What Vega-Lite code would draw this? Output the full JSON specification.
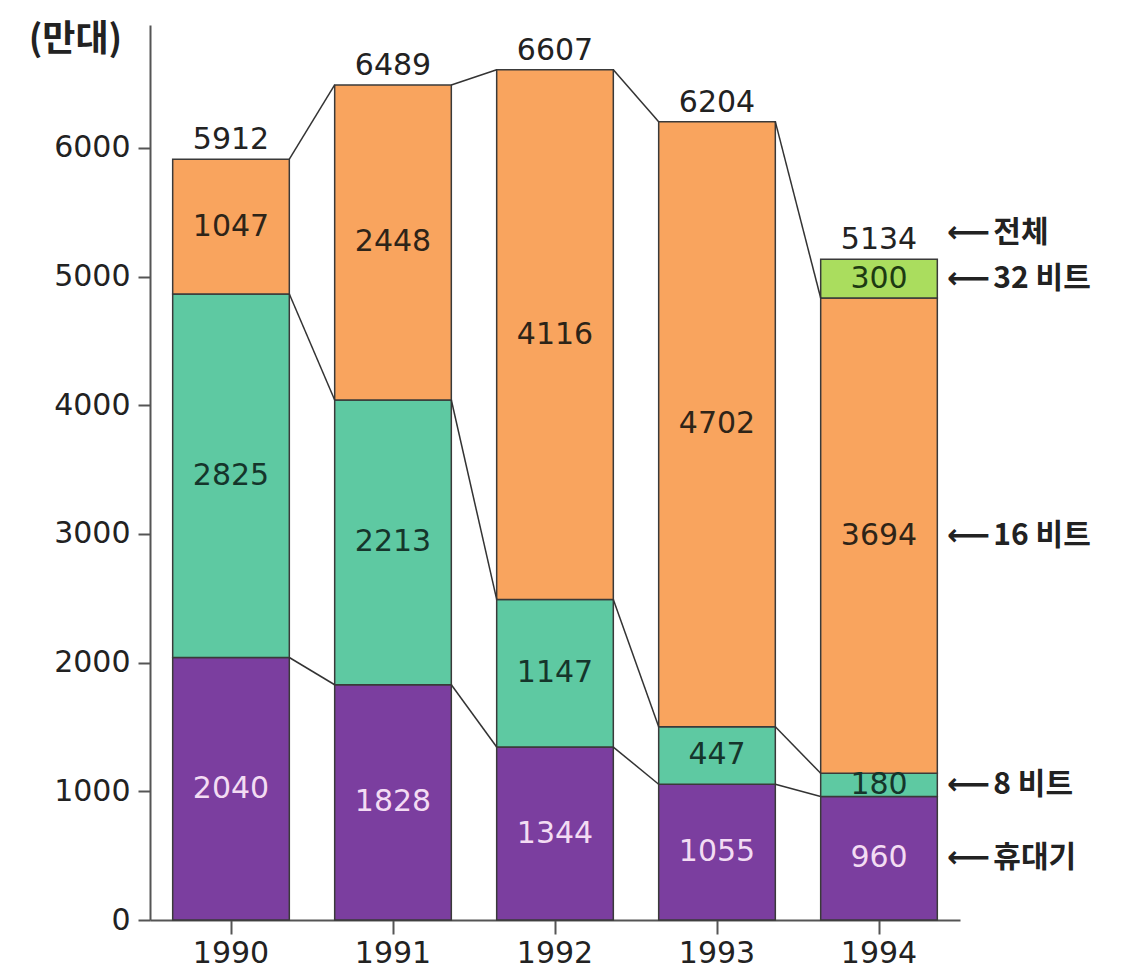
{
  "$schema": "https://vega.github.io/schema/vega-lite/v6.json",
  "width": 810,
  "height": 895,
  "autosize": {"type": "none"},
  "padding": {"left": 150, "top": 25, "right": 171, "bottom": 58},
  "background": "white",
  "config": {
    "view": {"stroke": null},
    "axis": {"grid": false}
  },
  "datasets": {
    "main": [
      {"year": "1990", "cat": "휴대기", "k": 1, "value": 2040},
      {"year": "1990", "cat": "8 비트", "k": 2, "value": 2825},
      {"year": "1990", "cat": "16 비트", "k": 3, "value": 1047},
      {"year": "1991", "cat": "휴대기", "k": 1, "value": 1828},
      {"year": "1991", "cat": "8 비트", "k": 2, "value": 2213},
      {"year": "1991", "cat": "16 비트", "k": 3, "value": 2448},
      {"year": "1992", "cat": "휴대기", "k": 1, "value": 1344},
      {"year": "1992", "cat": "8 비트", "k": 2, "value": 1147},
      {"year": "1992", "cat": "16 비트", "k": 3, "value": 4116},
      {"year": "1993", "cat": "휴대기", "k": 1, "value": 1055},
      {"year": "1993", "cat": "8 비트", "k": 2, "value": 447},
      {"year": "1993", "cat": "16 비트", "k": 3, "value": 4702},
      {"year": "1994", "cat": "휴대기", "k": 1, "value": 960},
      {"year": "1994", "cat": "8 비트", "k": 2, "value": 180},
      {"year": "1994", "cat": "16 비트", "k": 3, "value": 3694},
      {"year": "1994", "cat": "32 비트", "k": 4, "value": 300}
    ],
    "totals": [
      {"year": "1990", "total": 5912},
      {"year": "1991", "total": 6489},
      {"year": "1992", "total": 6607},
      {"year": "1993", "total": 6204},
      {"year": "1994", "total": 5134}
    ],
    "links": [
      {"from": "1990", "to": "1991", "a": 2040, "b": 1828},
      {"from": "1990", "to": "1991", "a": 4865, "b": 4041},
      {"from": "1990", "to": "1991", "a": 5912, "b": 6489},
      {"from": "1991", "to": "1992", "a": 1828, "b": 1344},
      {"from": "1991", "to": "1992", "a": 4041, "b": 2491},
      {"from": "1991", "to": "1992", "a": 6489, "b": 6607},
      {"from": "1992", "to": "1993", "a": 1344, "b": 1055},
      {"from": "1992", "to": "1993", "a": 2491, "b": 1502},
      {"from": "1992", "to": "1993", "a": 6607, "b": 6204},
      {"from": "1993", "to": "1994", "a": 1055, "b": 960},
      {"from": "1993", "to": "1994", "a": 1502, "b": 1140},
      {"from": "1993", "to": "1994", "a": 6204, "b": 4834}
    ]
  },
  "layer": [
    {
      "data": {"name": "main"},
      "mark": {"type": "bar", "stroke": "#3a3a3a", "strokeWidth": 1.5},
      "encoding": {
        "x": {
          "field": "year", "type": "ordinal",
          "scale": {"paddingInner": 0.28, "paddingOuter": 0.14},
          "axis": {
            "title": null, "labelAngle": 0,
            "domainColor": "#555", "domainWidth": 2,
            "tickColor": "#555", "tickWidth": 2, "tickSize": 14,
            "labelPadding": 4, "labelFont": "DejaVu Sans", "labelFontSize": 30, "labelColor": "#222"
          }
        },
        "y": {
          "field": "value", "type": "quantitative", "stack": "zero",
          "scale": {"domain": [0, 6955], "nice": false, "zero": true},
          "axis": {
            "values": [0, 1000, 2000, 3000, 4000, 5000, 6000],
            "format": "d",
            "title": "(만대)", "titleAngle": 0, "titleX": -75, "titleY": 14,
            "titleAlign": "center", "titleBaseline": "middle",
            "titleFont": "Noto Sans CJK KR", "titleFontSize": 36, "titleFontWeight": "bold", "titleColor": "#222",
            "domainColor": "#555", "domainWidth": 2,
            "tickColor": "#555", "tickWidth": 2, "tickSize": 12,
            "labelPadding": 8, "labelFont": "DejaVu Sans", "labelFontSize": 30, "labelColor": "#222"
          }
        },
        "color": {
          "field": "cat", "type": "nominal", "legend": null,
          "scale": {"domain": ["휴대기", "8 비트", "16 비트", "32 비트"], "range": ["#7b3e9f", "#5ec9a2", "#f9a45e", "#aadd5e"]}
        },
        "order": {"field": "k", "type": "quantitative"}
      }
    },
    {
      "data": {"name": "links"},
      "mark": {"type": "rule", "color": "#333", "strokeWidth": 1.5},
      "encoding": {
        "x": {"field": "from", "type": "ordinal", "bandPosition": 1},
        "x2": {"field": "to", "bandPosition": 0},
        "y": {"field": "a", "type": "quantitative"},
        "y2": {"field": "b"}
      }
    },
    {
      "data": {"name": "main"},
      "mark": {"type": "text", "font": "DejaVu Sans", "fontSize": 30, "baseline": "middle", "align": "center"},
      "encoding": {
        "x": {"field": "year", "type": "ordinal"},
        "y": {"field": "value", "type": "quantitative", "stack": "zero", "bandPosition": 0.5},
        "detail": {"field": "cat", "type": "nominal"},
        "order": {"field": "k", "type": "quantitative"},
        "text": {"field": "value", "type": "quantitative", "format": "d"},
        "color": {
          "condition": [
            {"test": "datum.cat === '휴대기'", "value": "#f3dcf3"},
            {"test": "datum.cat === '8 비트'", "value": "#15352b"},
            {"test": "datum.cat === '32 비트'", "value": "#1d3a12"}
          ],
          "value": "#2e2418"
        }
      }
    },
    {
      "data": {"name": "totals"},
      "mark": {"type": "text", "font": "DejaVu Sans", "fontSize": 30, "baseline": "alphabetic", "align": "center", "dy": -10, "color": "#222"},
      "encoding": {
        "x": {"field": "year", "type": "ordinal"},
        "y": {"field": "total", "type": "quantitative"},
        "text": {"field": "total", "type": "quantitative", "format": "d"}
      }
    },
    {
      "data": {"name": "main"},
      "transform": [{"filter": "datum.year === '1994'"}],
      "mark": {"type": "text", "font": "DejaVu Sans", "fontSize": 30, "fontWeight": "bold", "baseline": "middle", "align": "left", "dx": 10, "color": "#222"},
      "encoding": {
        "x": {"field": "year", "type": "ordinal", "bandPosition": 1},
        "y": {"field": "value", "type": "quantitative", "stack": "zero", "bandPosition": 0.5},
        "detail": {"field": "cat", "type": "nominal"},
        "order": {"field": "k", "type": "quantitative"},
        "text": {"value": "⟵"}
      }
    },
    {
      "data": {"name": "main"},
      "transform": [{"filter": "datum.year === '1994'"}],
      "mark": {"type": "text", "font": "Noto Sans CJK KR", "fontWeight": "bold", "fontSize": 30, "baseline": "middle", "align": "left", "dx": 56, "color": "#222"},
      "encoding": {
        "x": {"field": "year", "type": "ordinal", "bandPosition": 1},
        "y": {"field": "value", "type": "quantitative", "stack": "zero", "bandPosition": 0.5},
        "detail": {"field": "cat", "type": "nominal"},
        "order": {"field": "k", "type": "quantitative"},
        "text": {"field": "cat", "type": "nominal"}
      }
    },
    {
      "data": {"name": "totals"},
      "transform": [{"filter": "datum.year === '1994'"}],
      "mark": {"type": "text", "font": "DejaVu Sans", "fontSize": 30, "fontWeight": "bold", "baseline": "middle", "align": "left", "dx": 10, "dy": -26, "color": "#222"},
      "encoding": {
        "x": {"field": "year", "type": "ordinal", "bandPosition": 1},
        "y": {"field": "total", "type": "quantitative"},
        "text": {"value": "⟵"}
      }
    },
    {
      "data": {"name": "totals"},
      "transform": [{"filter": "datum.year === '1994'"}],
      "mark": {"type": "text", "font": "Noto Sans CJK KR", "fontWeight": "bold", "fontSize": 30, "baseline": "middle", "align": "left", "dx": 56, "dy": -26, "color": "#222"},
      "encoding": {
        "x": {"field": "year", "type": "ordinal", "bandPosition": 1},
        "y": {"field": "total", "type": "quantitative"},
        "text": {"value": "전체"}
      }
    }
  ]
}
